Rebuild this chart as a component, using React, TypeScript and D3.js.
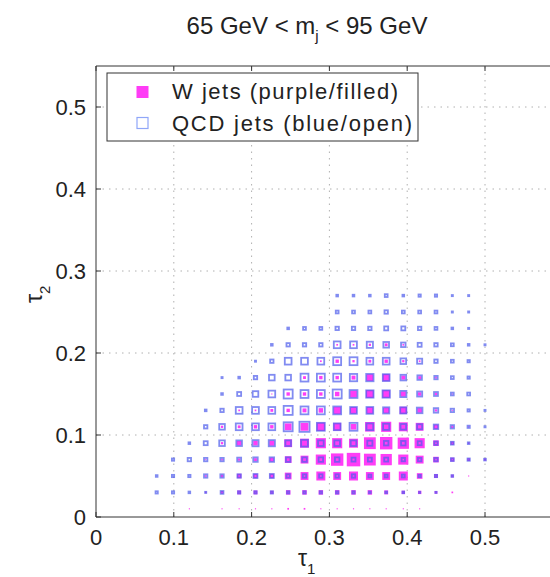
import React from 'react';
import * as d3 from 'd3';

// bin centres (tau1 across, tau2 from top row to bottom row)
const tau1Bins = [0.078, 0.099, 0.120, 0.141, 0.162, 0.184, 0.205, 0.226, 0.247, 0.268, 0.289,
    0.310, 0.331, 0.352, 0.373, 0.395, 0.416, 0.437, 0.458, 0.479, 0.500];
const tau2Bins = [0.27, 0.25, 0.23, 0.21, 0.19, 0.17, 0.15, 0.13, 0.11, 0.09, 0.07, 0.05, 0.03, 0.01];

// relative bin content (a.u.), one row per tau2 bin
const wJets = [
    [0, 0, 0, 0, 0, 0, 0, 0, 0, 0, 0, 0, 0, 0, 0, 0, 0, 0, 0, 0, 0],
    [0, 0, 0, 0, 0, 0, 0, 0, 0, 0, 0, 0, 0, 0, 0, 0, 0, 0, 0, 0, 0],
    [0, 0, 0, 0, 0, 0, 0, 0, 0, 0, 0, 0, 0, 0, 0, 0, 0, 0, 0, 0, 0],
    [0, 0, 0, 0, 0, 0, 0, 0, 0, 0, 0, 1.5, 1.5, 2, 2.5, 1.5, 0, 0, 0, 0, 0],
    [0, 0, 0, 0, 0, 0, 0, 0, 0, 0, 1.5, 3, 2, 2.5, 3, 2, 1.5, 0, 0, 0, 0],
    [0, 0, 0, 0, 0, 0, 0, 0, 0, 2.5, 3, 3, 3.5, 6, 6.5, 3.5, 2.5, 1.5, 0, 0, 0],
    [0, 0, 0, 0, 0, 0, 0, 1, 3, 3, 3, 4, 6, 7, 7, 4.5, 3, 2, 1, 0, 0],
    [0, 0, 0, 0, 0, 1.5, 1.5, 2.5, 3, 3.5, 4, 6.5, 6, 6, 5, 6.5, 4, 2, 1, 0, 0],
    [0, 0, 0, 0, 2, 2.5, 3, 3, 6, 7, 7.5, 7, 5, 8.5, 9, 8, 7, 4, 2, 1, 0],
    [0, 0, 0, 0, 2, 4, 4, 4.5, 7, 8, 9, 9, 8, 10.5, 11, 10, 9, 5, 3, 1.5, 0],
    [0, 0, 0, 1, 1.5, 2, 2.5, 3.5, 6, 7, 9, 11, 12, 10.5, 10, 9, 7, 5, 3.5, 2.5, 2],
    [0, 0, 0, 1.5, 2, 4, 4, 4, 6, 7, 8, 7, 8, 7, 7, 8, 5, 3.5, 2.5, 1, 0],
    [0, 0, 0, 1.5, 2.5, 3.5, 3.5, 3, 4, 4, 4, 4, 4, 4, 3.5, 3, 3, 2.5, 1.5, 0, 0],
    [0, 0, 1, 0, 1, 1, 1, 1, 1.5, 1.5, 1, 1, 1, 1, 1, 1, 1, 0, 0, 0, 0],
];

const qcdJets = [
    [0, 0, 0, 0, 0, 0, 0, 0, 0, 0, 0, 1.5, 1.5, 1.5, 2.5, 1.5, 2, 2, 1, 1, 0],
    [0, 0, 0, 0, 0, 0, 0, 0, 0, 0, 0, 2.5, 2.5, 2.5, 3, 2.5, 2.5, 2.5, 1, 1, 0],
    [0, 0, 0, 0, 0, 0, 0, 0, 1.5, 2.5, 2.5, 3, 3, 3, 3.5, 3.5, 3, 2.5, 1.5, 1, 0],
    [0, 0, 0, 0, 0, 0, 0, 1.5, 3, 3, 3, 6, 6, 5.5, 5, 4, 3.5, 3, 2.5, 1.5, 1],
    [0, 0, 0, 0, 0, 0, 1, 3, 6, 6, 6, 7, 7, 6, 6, 5, 4.5, 3, 2.5, 2, 0],
    [0, 0, 0, 0, 1, 1.5, 3, 5, 5, 7, 7, 7, 6.5, 6.5, 6, 5, 4, 3, 2.5, 2, 0],
    [0, 0, 0, 0, 1.5, 3.5, 5, 6, 8, 7, 7, 8, 7, 6.5, 6.5, 5.5, 4.5, 3.5, 2.5, 2.5, 0],
    [0, 0, 0, 1.5, 3, 6, 6, 6, 8, 7, 7, 7, 6, 6, 5.5, 5.5, 5, 4, 3, 2, 1],
    [0, 0, 0, 3, 5, 6, 6, 6, 8, 9, 7, 6, 7, 6, 5.5, 5, 4.5, 4, 3, 2, 1],
    [0, 0, 1.5, 3.5, 5, 5, 5.5, 5.5, 5, 6, 5, 5, 5, 4.5, 4, 4, 3.5, 3, 2.5, 1.5, 0],
    [0, 2, 3, 3, 3, 3.5, 4, 4, 4, 4, 4, 4, 3.5, 3.5, 3.5, 3, 3, 3, 2.5, 2, 1.5],
    [1.5, 2, 2, 3, 3, 3, 3.5, 3.5, 3, 3, 3, 3, 3, 2.5, 2.5, 2.5, 2, 2, 1.5, 0, 0],
    [2, 2, 1.5, 1, 2.5, 2, 2, 2, 2, 2, 2, 2, 2, 1.5, 1.5, 1.5, 1, 1, 0, 0, 0],
    [0, 0, 0, 0, 0, 0, 0, 0, 0, 0, 0, 0, 0, 0, 0, 0, 0, 0, 0, 0, 0],
];

const xTicks = [0, 0.1, 0.2, 0.3, 0.4, 0.5];
const yTicks = [0, 0.1, 0.2, 0.3, 0.4, 0.5];

const W_COLOR = '#ff3cf6';
const QCD_COLOR = '#5060ec';
const FONT = '"Liberation Sans", Arial, Helvetica, sans-serif';

const App = () => {
    const width = 550;
    const height = 577;

    const x = d3.scaleLinear().domain([0, 0.6]).range([96, 562.8]);
    const y = d3.scaleLinear().domain([0, 0.55]).range([517, 66]);
    const side = d3.scaleLinear().domain([0, 12]).range([0, 13.5]);

    const cells = (grid) => grid.flatMap((row, j) =>
        row.map((v, i) => ({ cx: x(tau1Bins[i]), cy: y(tau2Bins[j]), v }))
    ).filter(d => d.v > 0);

    const left = x(0);
    const bottom = y(0);
    const top = y(0.55);

    return (
        <svg width={width} height={height} style={{ position: 'absolute', left: 0, top: 0, background: '#fff' }}
            fontFamily={FONT}>
            <defs>
                <filter id="soft" x="-20%" y="-20%" width="140%" height="140%">
                    <feGaussianBlur stdDeviation="0.6" />
                </filter>
            </defs>

            {/* dotted grid */}
            <g stroke="#b0b0b0" strokeWidth={1} strokeDasharray="1.5,5">
                {xTicks.slice(1).map(t => (
                    <line key={'gx' + t} x1={x(t)} x2={x(t)} y1={bottom} y2={top} />
                ))}
                {yTicks.slice(1).map(t => (
                    <line key={'gy' + t} x1={left} x2={width} y1={y(t)} y2={y(t)} />
                ))}
            </g>

            <g filter="url(#soft)">
                {/* W jets: filled squares */}
                <g fill={W_COLOR}>
                    {cells(wJets).map((d, k) => (
                        <rect key={k} x={d.cx - side(d.v) / 2} y={d.cy - side(d.v) / 2}
                            width={side(d.v)} height={side(d.v)} />
                    ))}
                </g>

                {/* QCD jets: open squares */}
                <g fill="none" stroke={QCD_COLOR} strokeWidth={1.8} strokeOpacity={0.72}>
                    {cells(qcdJets).map((d, k) => (
                        <rect key={k} x={d.cx - side(d.v) / 2} y={d.cy - side(d.v) / 2}
                            width={side(d.v)} height={side(d.v)} />
                    ))}
                </g>
            </g>

            {/* axes frame */}
            <g stroke="#333" strokeWidth={1} fill="none">
                <line x1={left} x2={left} y1={top} y2={bottom} />
                <line x1={left} x2={width} y1={bottom} y2={bottom} />
                <line x1={left} x2={width} y1={top} y2={top} />
                {xTicks.map(t => (
                    <g key={'tx' + t}>
                        <line x1={x(t)} x2={x(t)} y1={bottom} y2={bottom - 5} />
                        <line x1={x(t)} x2={x(t)} y1={top} y2={top + 5} />
                    </g>
                ))}
                {yTicks.map(t => (
                    <line key={'ty' + t} x1={left} x2={left + 5} y1={y(t)} y2={y(t)} />
                ))}
            </g>

            {/* tick labels */}
            <g fontSize={22} fill="#222">
                {xTicks.map(t => (
                    <text key={'lx' + t} x={x(t)} y={545} textAnchor="middle">{t === 0 ? '0' : t.toFixed(1)}</text>
                ))}
                {yTicks.map(t => (
                    <text key={'ly' + t} x={left - 10} y={y(t) + 8} textAnchor="end">{t === 0 ? '0' : t.toFixed(1)}</text>
                ))}
            </g>

            {/* axis labels */}
            <text x={298} y={566} fontSize={23} fill="#222">τ<tspan fontSize={15} dy={8}>1</tspan></text>
            <text transform="translate(42, 303) rotate(-90)" fontSize={23} fill="#222">τ<tspan fontSize={15} dy={8}>2</tspan></text>

            {/* title */}
            <text x={307} y={34} fontSize={24} fill="#222" textAnchor="middle">
                65 GeV &lt; m<tspan fontSize={15} dy={7}>j</tspan><tspan dy={-7}> &lt; 95 GeV</tspan>
            </text>

            {/* legend */}
            <g>
                <rect x={107} y={73} width={311} height={68} fill="#fff" stroke="#333" strokeWidth={1} />
                <rect x={136.5} y={86} width={12} height={12} fill={W_COLOR} />
                <rect x={137} y={117.5} width={11} height={11} fill="none" stroke="#8fa6f8" strokeWidth={1.2} />
                <text x={172} y={99} fontSize={22} fill="#222" textLength={226} lengthAdjust="spacing">W jets (purple/filled)</text>
                <text x={172} y={131} fontSize={22} fill="#222" textLength={240} lengthAdjust="spacing">QCD jets (blue/open)</text>
            </g>
        </svg>
    );
};

export default App;
